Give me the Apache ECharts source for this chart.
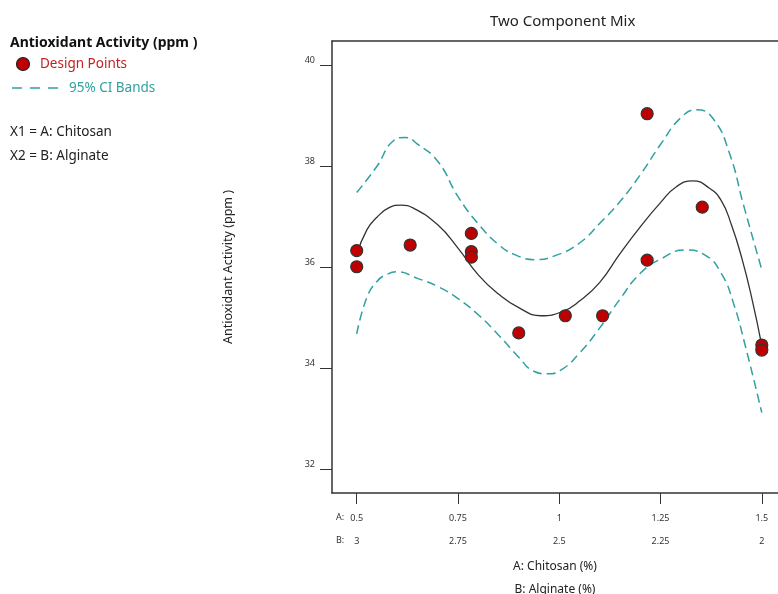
<!DOCTYPE html>
<html>
<head>
<meta charset="utf-8">
<script src="https://cdn.jsdelivr.net/npm/echarts@6/dist/echarts.min.js"></script>
<style>
  html, body { margin: 0; padding: 0; background: #fff; }
  #chart { width: 778px; height: 594px; }
</style>
</head>
<body>
<div id="chart"></div>
<script>
// design points (A: Chitosan %, response ppm)
const designA = [0.5, 0.5, 0.632, 0.783, 0.783, 0.783, 0.9, 1.015, 1.107, 1.217, 1.217, 1.353, 1.5, 1.5];
const designY = [36.33, 36.01, 36.44, 36.67, 36.31, 36.2, 34.7, 35.04, 35.04, 39.04, 36.14, 37.19, 34.46, 34.36];

// fitted curve
const fitA = [0.5, 0.525, 0.55, 0.58, 0.61, 0.64, 0.7, 0.75, 0.8, 0.85, 0.9, 0.955, 1.01, 1.05, 1.1, 1.15, 1.2, 1.25, 1.29, 1.33, 1.37, 1.4, 1.425, 1.45, 1.475, 1.5];
const fitY = [36.25, 36.74, 36.99, 37.18, 37.23, 37.17, 36.84, 36.38, 35.85, 35.47, 35.2, 35.04, 35.13, 35.33, 35.7, 36.27, 36.8, 37.28, 37.6, 37.71, 37.57, 37.32, 36.84, 36.2, 35.4, 34.45];

// 95% CI bands
const upperA = [0.5, 0.55, 0.59, 0.62, 0.65, 0.7, 0.75, 0.8, 0.85, 0.89, 0.94, 0.99, 1.05, 1.1, 1.15, 1.2, 1.25, 1.3, 1.34, 1.38, 1.42, 1.455, 1.5];
const upperY = [37.48, 38.0, 38.5, 38.57, 38.44, 38.1, 37.4, 36.86, 36.45, 36.25, 36.15, 36.23, 36.48, 36.87, 37.3, 37.83, 38.43, 38.96, 39.12, 38.94, 38.26, 37.23, 35.95];
const lowerA = [0.5, 0.525, 0.55, 0.575, 0.6, 0.65, 0.7, 0.75, 0.8, 0.85, 0.9, 0.935, 0.97, 1.005, 1.05, 1.1, 1.15, 1.2, 1.25, 1.31, 1.36, 1.4, 1.43, 1.46, 1.5];
const lowerY = [34.68, 35.4, 35.72, 35.86, 35.91, 35.78, 35.62, 35.38, 35.06, 34.66, 34.22, 33.95, 33.89, 33.97, 34.3, 34.8, 35.37, 35.88, 36.16, 36.34, 36.24, 35.88, 35.29, 34.42, 33.12];

// axis ticks
const aTicks = [0.5, 0.75, 1, 1.25, 1.5];
const bTicks = ["3", "2.75", "2.5", "2.25", "2"];
const yTicks = [32, 34, 36, 38, 40];

const teal = "#30a0a0";
const red = "#c00000";
const font = "Noto Sans";

const pairs = (xs, ys) => xs.map((x, i) => [x, ys[i]]);

const chart = echarts.init(document.getElementById("chart"));

const legendText = (x, y, text, fill, bold) => ({
  type: "text",
  x: x,
  y: y,
  style: {
    text: text,
    fontSize: bold ? 14 : 13.5,
    fontWeight: bold ? "bold" : "normal",
    fill: fill,
    fontFamily: font,
    verticalAlign: "middle",
  },
});

chart.setOption({
  animation: false,
  textStyle: { fontFamily: font },
  title: {
    text: "Two Component Mix",
    left: 485,
    top: 9,
    textStyle: { fontSize: 15, fontWeight: "normal", color: "#222", fontFamily: font },
  },
  grid: { left: 332, right: 0, top: 41, bottom: 101, outerBoundsMode: "none", containLabel: false },
  xAxis: [
    {
      type: "value",
      min: 0.439,
      max: 1.54,
      splitLine: { show: false },
      axisLine: { lineStyle: { color: "#333", width: 1.5 } },
      axisTick: { customValues: aTicks, length: 11, lineStyle: { color: "#333" } },
      axisLabel: {
        customValues: aTicks,
        margin: 14,
        fontSize: 9,
        lineHeight: 23,
        color: "#333",
        formatter: (v) => {
          const i = aTicks.indexOf(v);
          return String(v) + "\n" + bTicks[i];
        },
      },
      name: "A: Chitosan (%)\nB: Alginate (%)",
      nameLocation: "middle",
      nameGap: 62,
      nameMoveOverlap: false,
      nameTextStyle: { fontSize: 12, lineHeight: 23, color: "#222" },
    },
    {
      type: "value",
      position: "top",
      min: 0.439,
      max: 1.54,
      splitLine: { show: false },
      axisLine: { show: true, lineStyle: { color: "#333", width: 1.5 } },
      axisTick: { show: false },
      axisLabel: { show: false },
    },
  ],
  yAxis: {
    type: "value",
    min: 31.53,
    max: 40.48,
    splitLine: { show: false },
    axisLine: { show: true, lineStyle: { color: "#333", width: 1.5 } },
    axisTick: { show: true, customValues: yTicks, length: 12, lineStyle: { color: "#333" } },
    axisLabel: { customValues: yTicks, margin: 17, fontSize: 9, color: "#333", verticalAlign: "bottom" },
    name: "Antioxidant Activity (ppm )",
    nameLocation: "middle",
    nameGap: 97,
    nameTextStyle: { fontSize: 12.5, color: "#222" },
  },
  series: [
    {
      name: "Upper CI",
      type: "line",
      smooth: 0.5,
      showSymbol: false,
      data: pairs(upperA, upperY),
      lineStyle: { color: teal, width: 1.5, type: [9, 5] },
    },
    {
      name: "Lower CI",
      type: "line",
      smooth: 0.5,
      showSymbol: false,
      data: pairs(lowerA, lowerY),
      lineStyle: { color: teal, width: 1.5, type: [9, 5] },
    },
    {
      name: "Fit",
      type: "line",
      smooth: 0.5,
      showSymbol: false,
      data: pairs(fitA, fitY),
      lineStyle: { color: "#333", width: 1.3 },
    },
    {
      name: "Design Points",
      type: "scatter",
      symbolSize: 12,
      data: pairs(designA, designY),
      itemStyle: { color: red, opacity: 1, borderColor: "#333", borderWidth: 1.2 },
      z: 5,
    },
  ],
  graphic: [
    { type: "text", x: 336, y: 517, style: { text: "A:", fontSize: 9, fill: "#333", fontFamily: font, verticalAlign: "middle" } },
    { type: "text", x: 336, y: 540, style: { text: "B:", fontSize: 9, fill: "#333", fontFamily: font, verticalAlign: "middle" } },
    legendText(10, 43, "Antioxidant Activity (ppm )", "#111", true),
    { type: "circle", shape: { cx: 23, cy: 64, r: 6.5 }, style: { fill: red, stroke: "#222", lineWidth: 1.2 } },
    legendText(40, 64, "Design Points", "#c62020", false),
    { type: "line", shape: { x1: 12, y1: 88, x2: 60, y2: 88 }, style: { stroke: teal, lineWidth: 1.5, lineDash: [10, 8] } },
    legendText(69, 88, "95% CI Bands", teal, false),
    legendText(10, 132, "X1 = A: Chitosan", "#222", false),
    legendText(10, 156, "X2 = B: Alginate", "#222", false),
  ],
});
</script>
</body>
</html>
